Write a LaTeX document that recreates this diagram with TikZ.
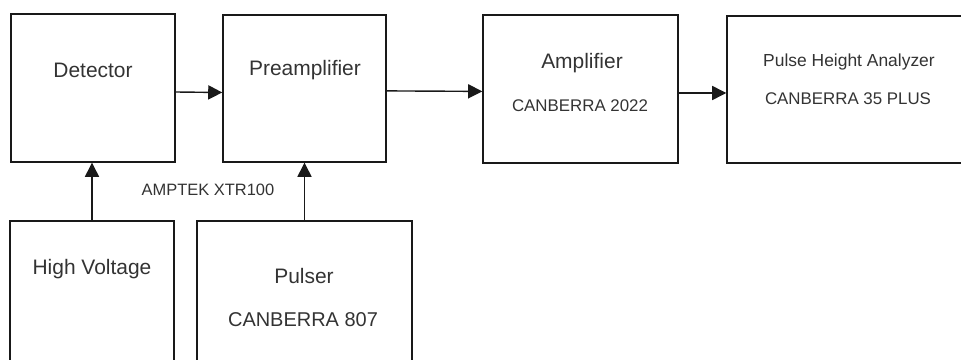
\documentclass[tikz,border=0pt]{standalone}
\usepackage{fontspec}
\setmainfont{Liberation Sans}
\usepackage{tikz}
\usetikzlibrary{arrows.meta}
\usepackage{xcolor}

\begin{document}
\begin{tikzpicture}[x=0.025cm,y=-0.025cm,>={Triangle[length=10pt,width=10pt]},line width=1pt,
  blk/.style={draw=black!90,rectangle,inner sep=0pt},
  bigtxt/.style={text=black!80,font=\fontsize{14.9}{16}\selectfont,inner sep=0pt},
  smalltxt/.style={text=black!80,font=\fontsize{12}{14}\selectfont,inner sep=0pt},
  sig/.style={->,draw=black!90}]
\useasboundingbox (0,0) rectangle (961,360);
\clip (0,0) rectangle (961,360);
% boxes
\node[blk,minimum width=4.1cm,minimum height=3.7cm] (det) at (93,88) {};
\node[blk,minimum width=4.075cm,minimum height=3.675cm] (pre) at (304.5,88.5) {};
\node[blk,minimum width=4.875cm,minimum height=3.7cm] (amp) at (580.5,89) {};
\node[blk,minimum width=6.575cm,minimum height=3.675cm] (pha) at (858.5,89.5) {};
\node[blk,minimum width=4.1cm,minimum height=4.475cm] (hv) at (92,310.5) {};
\node[blk,minimum width=5.375cm,minimum height=4.475cm] (pul) at (304.5,310.5) {};
% texts
\node[bigtxt] (detlbl) at (93,70) {Detector};
\node[bigtxt] (prelbl) at (305,70) {Preamplifier};
\node[bigtxt] (amplbl) at (582,63) {Amplifier};
\node[smalltxt] (amptype) at (580,106) {CANBERRA 2022};
\node[smalltxt,font=\fontsize{12.4}{14}\selectfont] (phalbl) at (849,62) {Pulse Height Analyzer};
\node[smalltxt] (phatype) at (848,99) {CANBERRA 35 PLUS};
\node[bigtxt] (hvlbl) at (92,269) {High Voltage};
\node[bigtxt] (pullbl) at (304,276) {Pulser};
\node[bigtxt,font=\fontsize{14.2}{16}\selectfont] (pultype) at (303,320) {CANBERRA 807};
\node[smalltxt,font=\fontsize{11.7}{14}\selectfont] (pretype) at (208,190) {AMPTEK XTR100};
% signal path
\draw[sig] ([yshift=-1mm]det.east) -- ([yshift=-1mm]pre.west);
\draw[sig] ([yshift=-0.6mm]pre.east) -- ([yshift=-0.6mm]amp.west);
\draw[sig] ([yshift=-1mm]amp.east) -- ([yshift=-1mm]amp.east -| pha.west);
\draw[sig] (hv.north) -- (hv.north |- det.south);
\draw[sig] (pul.north) -- (pre.south);
\end{tikzpicture}
\end{document}
